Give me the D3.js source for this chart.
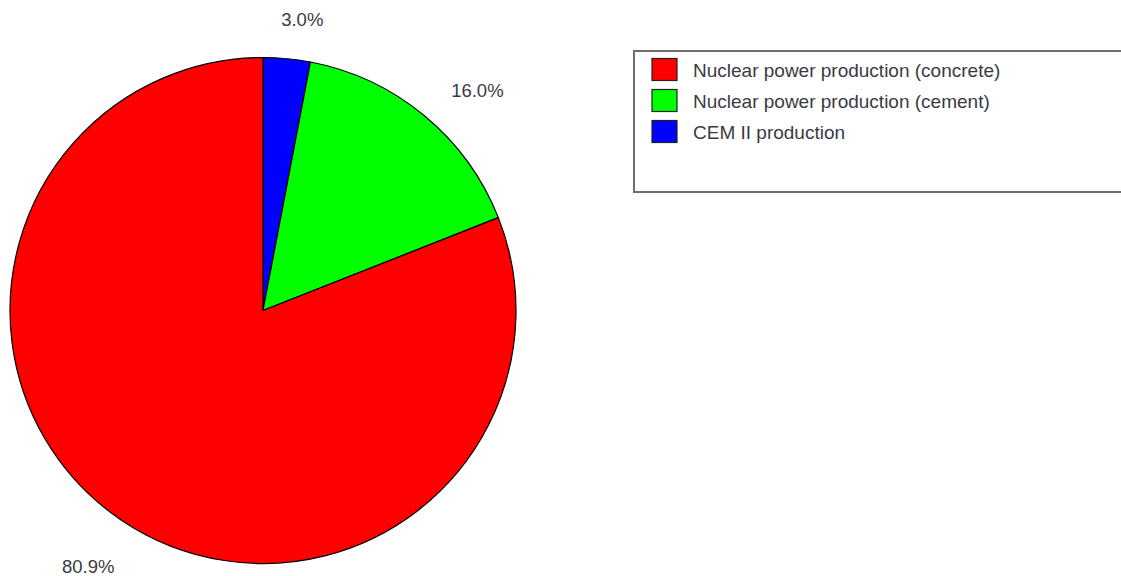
<!DOCTYPE html>
<html>
<head>
<meta charset="utf-8">
<script src="https://cdn.jsdelivr.net/npm/d3@7"></script>
<style>
  html, body { margin: 0; padding: 0; background: #ffffff; }
  svg { display: block; font-family: "Liberation Sans", Arial, sans-serif; }
</style>
</head>
<body>
<svg id="chart" width="1121" height="576"></svg>
<script>
// Share of each source (percent), in legend order
const categories = [
  "Nuclear power production (concrete)",
  "Nuclear power production (cement)",
  "CEM II production"
];
const values = [80.9, 16.0, 3.0];
const labels = ["80.9%", "16.0%", "3.0%"];
const colors = ["#ff0000", "#00ff00", "#0000ff"];

// Layout
const W = 1121, H = 576;
const cx = 263, cy = 310.5, radius = 253;
const labelRadius = 300;
// small per-slice adjustments of the percentage labels (legend order)
const labelNudge = [[-6, 8], [23, 11], [11, 8]];

const svg = d3.select("#chart");

const rows = categories.map((c, i) => ({ name: c, value: values[i], label: labels[i], color: colors[i], nudge: labelNudge[i] }));

// slices run clockwise from 12 o'clock, last legend entry first
const pie = d3.pie()
  .sort(null)
  .value(d => d.value);
const arcs = pie(rows.slice().reverse());

const arc = d3.arc().innerRadius(0).outerRadius(radius);

const g = svg.append("g").attr("transform", `translate(${cx},${cy})`);

g.selectAll("path.slice")
  .data(arcs)
  .join("path")
  .attr("class", "slice")
  .attr("d", arc)
  .attr("fill", d => d.data.color)
  .attr("stroke", "#000")
  .attr("stroke-width", 1.2)
  .attr("stroke-linejoin", "round");

// percentage labels outside the pie
g.selectAll("text.pct")
  .data(arcs)
  .join("text")
  .attr("class", "pct")
  .attr("x", d => {
    const a = (d.startAngle + d.endAngle) / 2;
    return Math.sin(a) * labelRadius + d.data.nudge[0];
  })
  .attr("y", d => {
    const a = (d.startAngle + d.endAngle) / 2;
    return -Math.cos(a) * labelRadius + d.data.nudge[1];
  })
  .attr("dy", "0.35em")
  .attr("text-anchor", "middle")
  .attr("font-size", 18.5)
  .attr("fill", "#3a3a44")
  .text(d => d.data.label);

// legend
const legX = 634, legY = 51, legW = 500, legH = 141;
const leg = svg.append("g");
leg.append("rect")
  .attr("x", legX).attr("y", legY)
  .attr("width", legW).attr("height", legH)
  .attr("fill", "#fff")
  .attr("stroke", "#6e6e6e")
  .attr("stroke-width", 2);

const rowY = d3.scaleBand()
  .domain(d3.range(rows.length))
  .range([legY + 6, legY + 6 + 31 * rows.length])
  .paddingInner(0);

const item = leg.selectAll("g.item")
  .data(rows)
  .join("g")
  .attr("class", "item")
  .attr("transform", (d, i) => `translate(${legX}, ${rowY(i)})`);

item.append("rect")
  .attr("x", 18).attr("y", 1.5)
  .attr("width", 25).attr("height", 22)
  .attr("fill", d => d.color)
  .attr("stroke", "#222")
  .attr("stroke-width", 1.2);

item.append("text")
  .attr("x", 59).attr("y", 13)
  .attr("dy", "0.35em")
  .attr("font-size", 19)
  .attr("fill", "#3a3a44")
  .text(d => d.name);
</script>
</body>
</html>
